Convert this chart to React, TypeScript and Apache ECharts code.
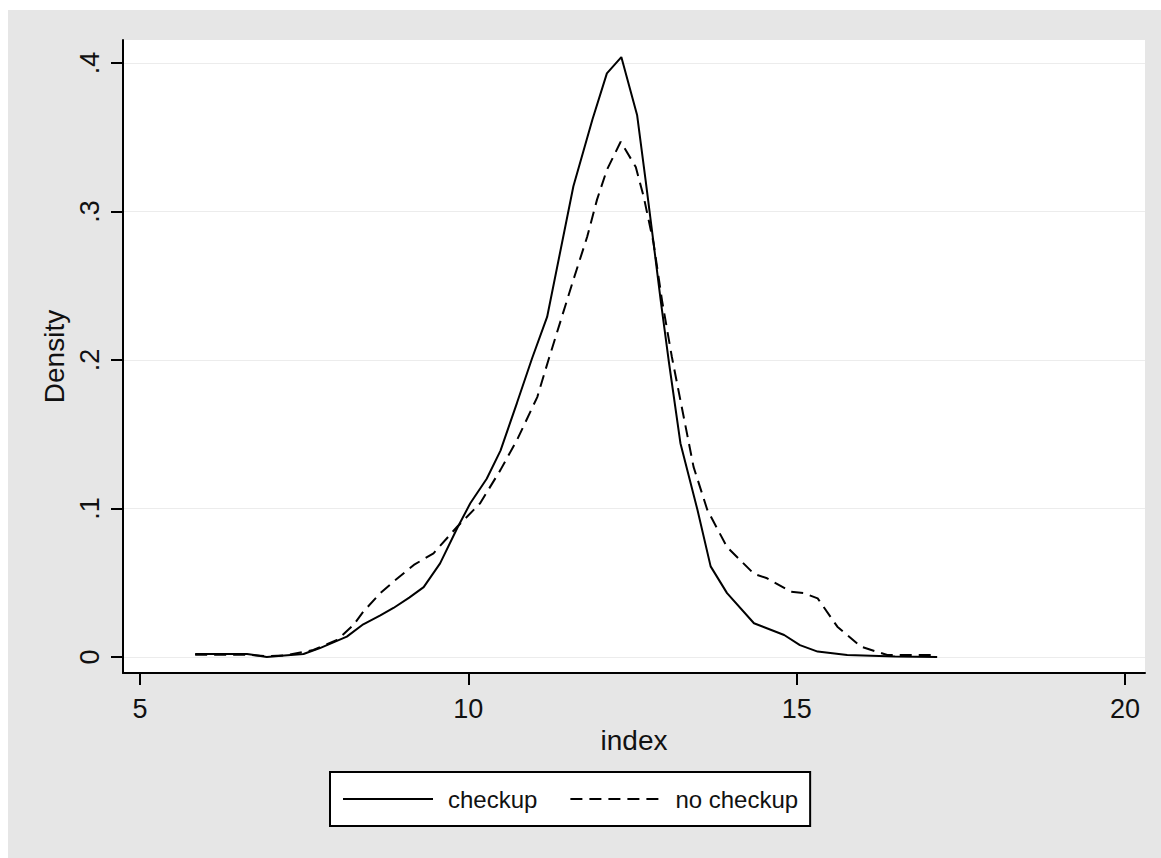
import React, { useEffect, useRef } from "react";
import * as echarts from "echarts";

const checkup: [number, number][] = [
  [5.84, 0.002], [6.63, 0.002], [6.93, 0.0], [7.2, 0.001], [7.49, 0.002], [7.74, 0.006],
  [8.15, 0.0137], [8.4, 0.022], [8.66, 0.028], [8.86, 0.033], [9.1, 0.04], [9.32, 0.047],
  [9.57, 0.063], [9.83, 0.0867], [10.03, 0.1035], [10.28, 0.12], [10.49, 0.139], [10.74, 0.171],
  [10.97, 0.201], [11.2, 0.229], [11.6, 0.317], [11.89, 0.362], [12.11, 0.393], [12.33, 0.404],
  [12.57, 0.365], [12.7, 0.321], [12.82, 0.279], [12.93, 0.24], [13.05, 0.2], [13.23, 0.144],
  [13.49, 0.099], [13.69, 0.061], [13.94, 0.043], [14.35, 0.0227], [14.81, 0.0148], [15.05, 0.008],
  [15.32, 0.0036], [15.77, 0.0013], [16.5, 0.0003], [17.14, 0.0],
];

const noCheckup: [number, number][] = [
  [5.84, 0.0015], [6.63, 0.0015], [6.93, 0.0005], [7.2, 0.001], [7.64, 0.0047], [8.0, 0.0114],
  [8.25, 0.0215], [8.4, 0.0305], [8.66, 0.043], [8.86, 0.0507], [9.17, 0.062], [9.47, 0.0698],
  [9.83, 0.0877], [10.18, 0.1035], [10.49, 0.126], [10.74, 0.146], [11.05, 0.175], [11.22, 0.2],
  [11.6, 0.254], [11.81, 0.283], [11.96, 0.308], [12.11, 0.328], [12.32, 0.347], [12.55, 0.33],
  [12.67, 0.31], [12.82, 0.279], [12.95, 0.24], [13.1, 0.202], [13.43, 0.128], [13.64, 0.099],
  [13.94, 0.074], [14.35, 0.056], [14.55, 0.053], [14.91, 0.044], [15.11, 0.043], [15.32, 0.0395],
  [15.62, 0.0204], [15.98, 0.0069], [16.38, 0.0013], [17.14, 0.0013],
];

const xTicks = [5, 10, 15, 20];
const yTicks = [0, 0.1, 0.2, 0.3, 0.4];
const seriesNames = ["checkup", "no checkup"];

const FONT = "'Liberation Sans', Arial, sans-serif";

export default function App() {
  const ref = useRef<HTMLDivElement>(null);
  useEffect(() => {
    if (!ref.current) return;
    const chart = echarts.init(ref.current, null, { renderer: "svg" });
    chart.setOption({
      animation: false,
      backgroundColor: "#e6e6e6",
      grid: {
        left: 115,
        top: 30,
        right: 16,
        bottom: 185,
        show: true,
        backgroundColor: "#ffffff",
        borderWidth: 0,
      },
      legend: {
        data: seriesNames,
        left: 322,
        top: 762,
        orient: "horizontal",
        backgroundColor: "#ffffff",
        borderColor: "#000000",
        borderWidth: 2,
        borderRadius: 0,
        padding: [15, 12, 15, 12],
        itemWidth: 90,
        itemHeight: 14,
        itemGap: 32,
        itemStyle: { opacity: 0 },
        lineStyle: { width: 2 },
        textStyle: {
          fontFamily: FONT,
          fontSize: 24,
          color: "#111",
          padding: [0, 0, 0, 10],
        },
      },
      xAxis: {
        type: "value",
        min: 4.741,
        max: 20.305,
        name: "index",
        nameLocation: "middle",
        nameGap: 53,
        nameTextStyle: { fontFamily: FONT, fontSize: 28, color: "#111" },
        axisLine: { show: true, onZero: false, lineStyle: { color: "#000", width: 2 } },
        axisTick: {
          show: true,
          length: 12,
          customValues: xTicks,
          lineStyle: { color: "#000", width: 2 },
        },
        axisLabel: {
          customValues: xTicks,
          margin: 22,
          fontFamily: FONT,
          fontSize: 27,
          color: "#111",
        },
        splitLine: { show: false },
      },
      yAxis: {
        type: "value",
        min: -0.0108,
        max: 0.4155,
        name: "Density",
        nameLocation: "middle",
        nameGap: 52,
        nameTextStyle: { fontFamily: FONT, fontSize: 28, color: "#111" },
        axisLine: { show: true, onZero: false, lineStyle: { color: "#000", width: 2 } },
        axisTick: {
          show: true,
          length: 12,
          customValues: yTicks,
          lineStyle: { color: "#000", width: 2 },
        },
        axisLabel: {
          customValues: yTicks,
          rotate: 90,
          margin: 20,
          fontFamily: FONT,
          fontSize: 27,
          color: "#111",
          formatter: (v: number) => (v === 0 ? "0" : String(v).replace(/^0/, "")),
        },
        splitLine: { show: true, lineStyle: { color: "#ececec", width: 1 } },
      },
      series: [
        {
          name: seriesNames[0],
          type: "line",
          data: checkup,
          symbol: "none",
          showSymbol: false,
          lineStyle: { color: "#000", width: 2, type: "solid" },
          itemStyle: { color: "#000" },
          z: 3,
        },
        {
          name: seriesNames[1],
          type: "line",
          data: noCheckup,
          symbol: "none",
          showSymbol: false,
          lineStyle: { color: "#000", width: 2, type: [12, 7] },
          itemStyle: { color: "#000" },
          z: 2,
        },
      ],
    });
    return () => chart.dispose();
  }, []);
  return (
    <div
      ref={ref}
      style={{ position: "absolute", left: 8, top: 10, width: 1153, height: 848 }}
    />
  );
}
